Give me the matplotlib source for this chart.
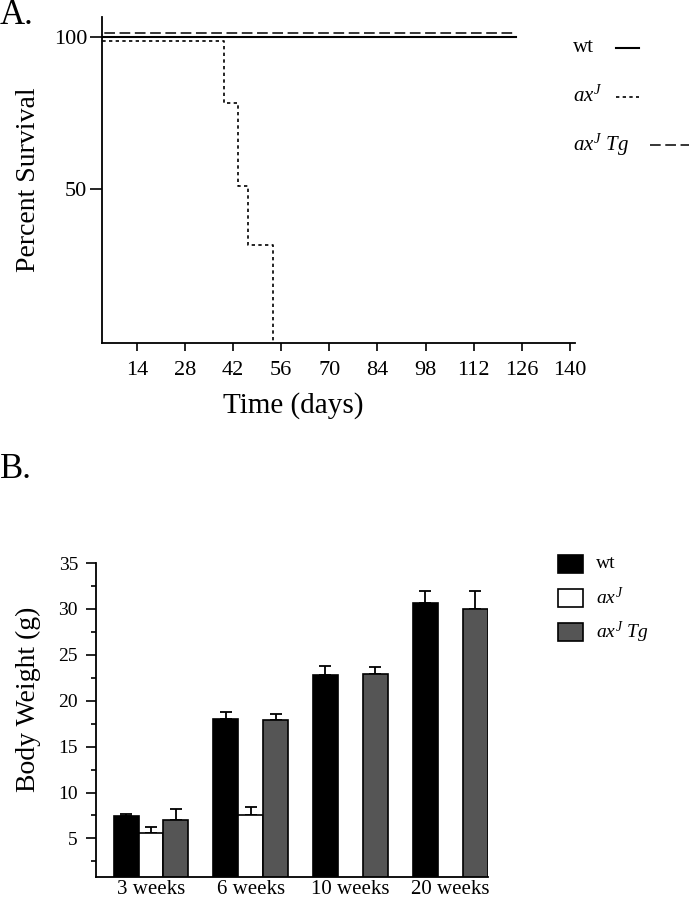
import matplotlib
matplotlib.use('Agg')
import matplotlib.pyplot as plt
from matplotlib.lines import Line2D
from matplotlib.patches import Rectangle
import numpy as np

plt.rcParams['font.family'] = 'Liberation Serif'
plt.rcParams['mathtext.fontset'] = 'custom'
plt.rcParams['mathtext.rm'] = 'Liberation Serif'
plt.rcParams['mathtext.it'] = 'Liberation Serif:italic'

# Panel A: survival curves
wt_days = [0, 124.3]
wt_surv = [100, 100]
tg_days = [0, 124.3]
tg_surv = [101.1, 101.1]
axj_days = [0, 39.3, 43.3, 46.4, 53.5]
axj_surv = [98.7, 78.4, 51, 31.7, 0]
day_ticks = [14, 28, 42, 56, 70, 84, 98, 112, 126, 140]
surv_ticks = [50, 100]

# Panel B: body weight
weeks = ['3 weeks', '6 weeks', '10 weeks', '20 weeks']
wt_w = [7.4, 18.0, 22.8, 30.6]
wt_err = [0.3, 0.8, 1.0, 1.4]
axj_w = [5.6, 7.5, np.nan, np.nan]
axj_err = [0.6, 0.9, np.nan, np.nan]
tg_w = [7.0, 17.9, 22.9, 30.0]
tg_err = [1.2, 0.7, 0.75, 1.9]

W, H = 689, 900
fig = plt.figure(figsize=(W / 100, H / 100), dpi=100)


def px(x, y):
    return x / W, 1 - y / H


# ---- panel A
axA = fig.add_axes([102 / W, 1 - 343 / H, (575 - 102) / W, (343 - 17) / H])
axA.plot(wt_days, wt_surv, color='black', lw=1.5)
axA.plot(tg_days, tg_surv, color='black', lw=1.1, dashes=(7, 3))
axA.plot(axj_days, axj_surv, color='black', lw=1.2, dashes=(2, 2),
         drawstyle='steps-post')
axA.set_xlim(3.8, 141.5)
axA.set_ylim(-0.3, 106.5)
axA.set_xticks(day_ticks)
axA.set_yticks(surv_ticks)
axA.tick_params(axis='x', length=6, width=1.2, labelsize=16, pad=7)
axA.tick_params(axis='y', length=8.6, width=1.2, labelsize=16, pad=2)
for s in ['top', 'right']:
    axA.spines[s].set_visible(False)
for s in ['left', 'bottom']:
    axA.spines[s].set_linewidth(1.3)
axA.set_xlabel('Time (days)', fontsize=21)
axA.xaxis.set_label_coords(0.404, -0.15)
axA.set_ylabel('Percent Survival', fontsize=20)
axA.yaxis.set_label_coords(-0.13, 0.5)

fig.text(*px(0, 15), 'A.', fontsize=25, va='center', ha='left')

# legend A
legA = [('wt', dict(lw=1.5), 616, 639),
        (r'$ax^{J}$', dict(lw=1.2, dashes=(2, 2)), 616, 639),
        (r'$ax^{J}\ Tg$', dict(lw=1.1, dashes=(7, 3)), 650, 700)]
for i, (lab, kw, x0, x1) in enumerate(legA):
    yy = 48 + i * 48.5
    fig.text(*px(573, yy), lab, fontsize=15, va='center', ha='left')
    fig.add_artist(Line2D([x0 / W, x1 / W], [1 - yy / H] * 2,
                          transform=fig.transFigure, color='black', **kw))

# ---- panel B
axB = fig.add_axes([96 / W, 1 - 877 / H, (488 - 96) / W, (877 - 563) / H])
x = np.arange(len(weeks))
bw = 0.25
zeros = np.zeros(len(weeks))
series = [(wt_w, wt_err, 'black', -bw), (axj_w, axj_err, 'white', 0),
          (tg_w, tg_err, '#555555', bw)]
for vals, err, col, off in series:
    axB.errorbar(x + off, vals, yerr=[zeros, err], fmt='none', ecolor='black',
                 elinewidth=1.3, capsize=4, capthick=1.3, zorder=1)
    axB.bar(x + off, vals, bw, color=col, edgecolor='black', linewidth=1.2,
            zorder=2)
axB.set_xlim(-0.552, 3.38)
axB.set_ylim(0.8, 35)
axB.set_yticks([5, 10, 15, 20, 25, 30, 35])
axB.set_yticks(np.arange(2.5, 35, 5), minor=True)
axB.set_xticks(x)
axB.set_xticklabels(weeks)
axB.tick_params(axis='x', length=0, labelsize=15, pad=2)
axB.tick_params(axis='y', which='major', length=7, width=1.2, labelsize=14, pad=6)
axB.tick_params(axis='y', which='minor', length=3.5, width=1.2)
for s in ['top', 'right']:
    axB.spines[s].set_visible(False)
for s in ['left', 'bottom']:
    axB.spines[s].set_linewidth(1.3)
axB.set_ylabel('Body Weight (g)', fontsize=20)
axB.yaxis.set_label_coords(-0.14, 0.565)

fig.text(*px(0, 469), 'B.', fontsize=25, va='center', ha='left')

# legend B
legB = [('wt', 'black'), (r'$ax^{J}$', 'white'), (r'$ax^{J}\ Tg$', '#555555')]
for i, (lab, col) in enumerate(legB):
    yy = 564 + i * 34
    x0, y0 = px(558, yy + 9)
    fig.add_artist(Rectangle((x0, y0), 25 / W, 18 / H, transform=fig.transFigure,
                             facecolor=col, edgecolor='black', linewidth=1.2))
    fig.text(*px(596, yy), lab, fontsize=14, va='center', ha='left')

fig.savefig('out.png', dpi=100)
